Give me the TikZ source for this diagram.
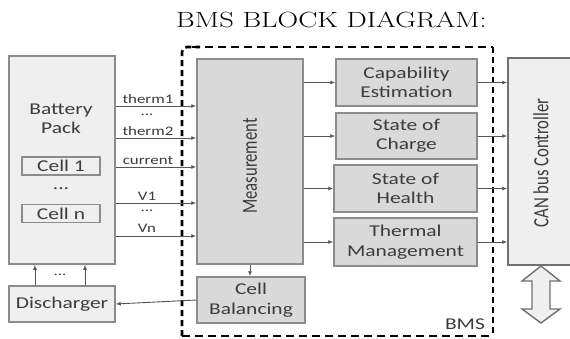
\documentclass[tikz,border=0pt]{standalone}
\usepackage{fontspec}
\newfontfamily\bodyfont[FakeStretch=1.3]{Carlito}
\newfontfamily\rotfont{Carlito}
\usetikzlibrary{arrows.meta}
\definecolor{txtgray}{HTML}{3C3C3C}
\definecolor{bordergray}{HTML}{8C8C8C}
\definecolor{darkborder}{HTML}{707070}
\definecolor{lightfill}{HTML}{EFEFEF}
\definecolor{midfill}{HTML}{D9D9D9}
\definecolor{linegray}{HTML}{555555}
\tikzset{
  lightbox/.style={draw=bordergray, line width=1.5pt, fill=lightfill, inner sep=0pt},
  boxfont/.style={text=txtgray, font=\bodyfont\fontsize{16.5}{19.5}\selectfont},
  midbox/.style={draw=bordergray, line width=1.5pt, fill=midfill, inner sep=0pt, align=center, boxfont},
  cellbox/.style={draw=bordergray, line width=1.5pt, fill=lightfill, inner sep=0pt, boxfont},
  lbl/.style={text=txtgray, font=\bodyfont\fontsize{13}{15}\selectfont, inner sep=0pt},
  bigtxt/.style={boxfont, align=center, inner sep=0pt},
  rottxt/.style={text=txtgray, font=\rotfont\fontsize{16.7}{19}\selectfont, rotate=90, inner sep=0pt},
  arr/.style={draw=linegray, line width=0.9pt, -{Latex[length=5pt,width=4pt]}},
  bmsdash/.style={draw=black, line width=2.6pt, dash pattern=on 6pt off 4pt},
  bmsdashh/.style={draw=black, line width=2.6pt, dash pattern=on 8pt off 5pt},
}
\begin{document}
\begin{tikzpicture}[x=1pt,y=-1pt]
\useasboundingbox (0,0) rectangle (570,338);
\clip (0,0) rectangle (570,338);
% title
\node[inner sep=0pt] (title) at (331.5,20) {\scalebox{1.3}[1]{\fontsize{22}{26}\selectfont BMS BLOCK DIAGRAM:}};
% dashed BMS boundary
\draw[bmsdash, rounded corners=5pt] (182,336) -- (182,47) -- (200,47);
\draw[bmsdashh] (192,47) -- (493,47);
\draw[bmsdash] (493,47) -- (493,336);
\draw[bmsdashh] (182,336) -- (493,336);
\node[lbl, font=\bodyfont\fontsize{16.5}{19}\selectfont] (bmslbl) at (465,324) {BMS};
% battery pack
\node[lightbox, minimum width=106pt, minimum height=208pt] (bp) at (62,160) {};
\node[bigtxt] (bptxt) at (61,119) {Battery\\Pack};
\node[cellbox, minimum width=78pt, minimum height=18pt] (c1) at (61,166) {Cell 1};
\node[bigtxt] (cdots) at (61,189) {...};
\node[cellbox, minimum width=78pt, minimum height=18pt] (cn) at (61,213.5) {Cell n};
% discharger
\node[lightbox, minimum width=106pt, minimum height=36pt, boxfont] (dis) at (62,304) {Discharger};
\draw[arr] (dis.north -| 35,0) -- (bp.south -| 35,0);
\draw[arr] (dis.north -| 85,0) -- (bp.south -| 85,0);
\node[lbl] (ddots) at (60,275) {...};
% measurement
\node[midbox, minimum width=106pt, minimum height=205pt] (meas) at (250,161.5) {};
\node[rottxt] (meastxt) at (250,166) {\scalebox{1}[1.3]{Measurement}};
% cell balancing
\node[midbox, minimum width=108pt, minimum height=46pt] (cb) at (251,300) {Cell\\Balancing};
\draw[arr] (meas.south -| 250,0) -- (cb.north -| 250,0);
\draw[arr] (cb.west) -- (dis.east);
% sensor arrows
\draw[arr] (bp.east |- 0,106) -- (meas.west |- 0,106);
\draw[arr] (bp.east |- 0,138) -- (meas.west |- 0,138);
\draw[arr] (bp.east |- 0,167) -- (meas.west |- 0,167);
\draw[arr] (bp.east |- 0,203) -- (meas.west |- 0,203);
\draw[arr] (bp.east |- 0,236) -- (meas.west |- 0,236);
\node[lbl] (l1) at (148,99) {therm1};
\node[lbl] (l2) at (147,115) {...};
\node[lbl] (l3) at (148,131) {therm2};
\node[lbl] (l4) at (148,160) {current};
\node[lbl] (l5) at (147,196) {V1};
\node[lbl] (l6) at (147,211) {...};
\node[lbl] (l7) at (147,228) {Vn};
% estimation boxes
\node[midbox, minimum width=141pt, minimum height=47pt] (cap) at (406.5,82.5) {Capability\\Estimation};
\node[midbox, minimum width=141pt, minimum height=46pt] (soc) at (406.5,136) {State of\\Charge};
\node[midbox, minimum width=143pt, minimum height=47pt] (soh) at (405.5,188.5) {State of\\Health};
\node[midbox, minimum width=143pt, minimum height=48pt] (tm) at (405.5,242) {Thermal\\Management};
\draw[arr] (meas.east |- cap.west) -- (cap.west);
\draw[arr] (meas.east |- soc.west) -- (soc.west);
\draw[arr] (meas.east |- soh.west) -- (soh.west);
\draw[arr] (meas.east |- tm.west) -- (tm.west);
% CAN controller
\node[lightbox, draw=darkborder, minimum width=72pt, minimum height=207pt] (can) at (544,161.5) {};
\node[rottxt] (cantxt) at (541,163) {\scalebox{1}[1.3]{CAN bus Controller}};
\draw[arr] (cap.east) -- (can.west |- cap.east);
\draw[arr] (soc.east) -- (can.west |- soc.east);
\draw[arr] (soh.east) -- (can.west |- soh.east);
\draw[arr] (tm.east) -- (can.west |- tm.east);
% double arrow
\draw[draw=darkborder, line width=1.4pt, fill=lightfill, line join=miter]
  (541,266) -- (560,281) -- (550,281) -- (550,309) -- (560,309) -- (541,323)
  -- (522,309) -- (532,309) -- (532,281) -- (522,281) -- cycle;
\end{tikzpicture}
\end{document}
